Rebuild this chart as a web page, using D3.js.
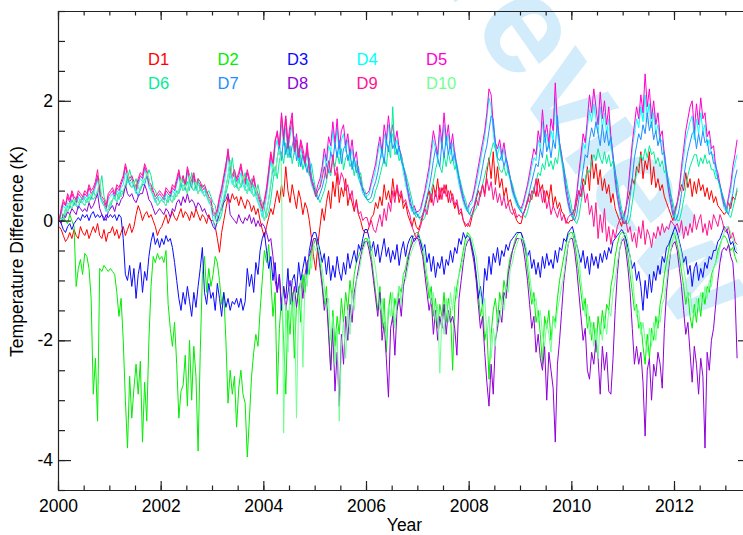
<!DOCTYPE html>
<html>
<head>
<meta charset="utf-8">
<script src="https://d3js.org/d3.v7.min.js"></script>
<style>
  body { margin: 0; background: #fff; }
  text { font-family: "Liberation Sans", Arial, sans-serif; }
</style>
</head>
<body>
<div id="chart"></div>
<script>
// half-monthly values from Jan 2000 (about 24 per row, one row per year)
const startYear = 2000;
const perYear = 24;

const d1 = [
  -.1,-.15,-.25,-.35,-.3,-.2,-.3,-.15,-.25,-.3,-.1,-.2,-.25,-.15,-.3,-.2,-.1,-.2,-.05,-.25,-.3,-.15,-.35,-.2,
  -.2,-.1,-.25,-.15,-.3,-.2,-.1,-.25,-.15,-.05,-.2,-.1,.1,.25,.15,0,.1,.15,.05,.1,0,-.1,-.25,-.15,
  -.1,0,.1,-.05,.05,.15,.05,0,.1,.2,.05,.15,.1,0,.15,.05,.2,.1,0,.1,.05,-.05,.1,0,
  0,-.1,-.3,-.53,-.2,0,.2,.4,.3,.45,.35,.4,.25,.4,.3,.2,.35,.3,.15,.25,.1,.2,0,-.15,
  -.28,-.1,.05,.2,.1,.3,.5,.3,.6,.4,.9,.5,.3,.6,.4,.2,.5,.35,.1,.3,.2,0,-.3,-.6,
  -.83,-.4,-.1,.2,0,.3,.5,.2,.65,.4,.8,.3,.55,.4,.7,.25,.45,.3,.15,.35,.1,0,-.15,-.2,
  -.2,-.1,.05,.1,.3,.2,.4,.25,.6,.35,.5,.3,.7,.4,.55,.3,.45,.2,.3,.1,0,-.1,.05,-.1,
  -.15,-.05,.1,.2,.35,.5,.3,.6,.4,.7,.35,.55,.45,.6,.3,.5,.35,.2,.3,.1,.15,0,-.1,-.05,
  -.1,.05,.2,.35,.5,.4,.6,.45,.8,1.05,.7,1.15,.6,.9,.55,.7,.4,.55,.3,.35,.2,.1,0,-.05,
  -.05,.1,.2,.3,.45,.35,.55,.4,.7,.5,.6,.3,.5,.35,.6,.25,.4,.2,.3,.15,.1,0,-.05,0,
  0,.1,.3,.5,.4,.7,.6,.9,.5,1.1,.7,.95,.6,.85,.5,.7,.45,.6,.3,.45,.2,.1,0,-.1,
  .1,.2,.35,.5,.7,.6,.9,.8,1.15,.7,1,.85,1.15,.6,.9,.55,.7,.5,.6,.4,.3,.2,.1,0,
  .2,.3,.45,.6,.5,.8,.55,.7,.4,.65,.45,.7,.5,.6,.4,.55,.35,.5,.3,.4,.25,.2,.15,.1,
  .15,.3,.2,.4,.35,.5
];
const d2 = [
  0,.15,.05,0,-.05,.1,0,-.1,-1.1,-.8,-.65,-.9,-.55,-.6,-.8,-1.3,-2.9,-2.3,-3.35,-.8,-.85,-.75,-.8,-.85,
  -.8,-.85,-.9,-1.2,-1.6,-1.3,-2,-3,-3.8,-2.6,-3.3,-2.8,-2.4,-2.9,-2.35,-3.7,-2.7,-3.35,-2,-1.1,-.6,-.7,-.55,-.65,
  -.6,-.7,-.5,-1.4,-1.8,-2.1,-1.7,-2.4,-3.3,-2.85,-2.75,-2.25,-3.1,-2,-3,-2.1,-2.6,-3.85,-2.2,-.9,-.6,-1.2,-.8,-1.1,
  -.9,-.6,-.7,-1,-1.4,-1.2,-2,-3.05,-2.5,-2.9,-2.6,-3.45,-2.8,-2.5,-2.9,-3.05,-3.95,-3.3,-2.6,-2.2,-1.9,-2.1,-1.5,-1,
  -.5,-.7,-.4,-1,-1.6,-1.2,-2.9,-1.8,-1.3,-2,-2.9,-1.5,-1.9,-1.2,-2.3,-1.4,-1.1,-1.7,-.9,-1.2,-.7,-.9,-.5,-.4,
  -.3,-.5,-.7,-1,-1.4,-1.1,-1.8,-2.5,-1.5,-2.1,-1.6,-1.9,-1.3,-1.7,-1.2,-1.5,-1,-1.3,-.9,-.7,-.6,-.5,-.4,-.3,
  -.3,-.4,-.6,-.9,-1.2,-1.5,-1.1,-1.8,-1.3,-2.2,-1.5,-1.2,-1.7,-1.3,-1.5,-1.1,-1.2,-.9,-.8,-.6,-.5,-.3,-.25,-.2,
  -.2,-.35,-.5,-.8,-1,-1.3,-1.1,-1.6,-1.3,-1.8,-1.4,-1.6,-1.2,-1.7,-1.3,-1.5,-2.5,-1.4,-1.1,-.9,-.7,-.5,-.3,-.2,
  -.25,-.4,-.6,-.9,-1.2,-1.6,-1.4,-2,-1.8,-2.65,-1.9,-1.5,-1.3,-1.7,-1.2,-1.4,-1,-1.2,-.8,-.6,-.5,-.35,-.25,-.2,
  -.2,-.35,-.5,-.8,-1.1,-1.4,-1.2,-1.7,-1.5,-1.9,-2.4,-1.6,-1.8,-1.5,-2,-1.6,-1.7,-1.3,-1,-.8,-.6,-.4,-.25,-.2,
  -.2,-.35,-.6,-.9,-1.2,-1.5,-1.3,-1.8,-1.6,-2,-1.7,-2.2,-1.6,-1.9,-1.5,-1.8,-1.4,-1.5,-1.1,-.9,-.6,-.4,-.25,-.2,
  -.2,-.35,-.6,-.9,-1.2,-1.5,-1.4,-1.8,-1.7,-2.1,-2.4,-1.9,-2.3,-1.8,-2,-1.6,-1.8,-1.4,-1.2,-.9,-.7,-.5,-.3,-.2,
  -.25,-.4,-.6,-.85,-1.1,-1.4,-1.2,-1.6,-1.8,-1.4,-1.7,-1.3,-1.6,-1.2,-1.4,-1.1,-1.2,-.9,-.8,-.7,-.5,-.4,-.3,-.25,
  -.3,-.4,-.5,-.45,-.6,-.7
];
const d3v = [
  0,-.05,-.15,-.2,-.1,-.05,-.15,-.05,0,.05,0,.1,.05,.1,0,.1,.15,.05,.1,.05,.1,0,.1,.05,
  .1,.05,.1,0,.1,.05,-.3,-.9,-1,-.75,-1.1,-.8,-1.3,-.9,-.7,-1.2,-.85,-1,-.6,-.35,-.2,-.4,-.3,-.45,
  -.3,-.4,-.25,-.35,-.3,-.45,-.7,-1,-1.3,-1.5,-1.2,-1.4,-1.1,-1.35,-1.6,-1.2,-1.45,-1.1,-.8,-.45,-1.2,-1.4,-1.05,-1.3,
  -1.2,-1.5,-1.05,-1.3,-1.6,-1.2,-1.45,-1.3,-1.5,-1.35,-1.4,-1.3,-1.45,-1.3,-1.5,-1.35,-.8,-1.1,-.9,-1.2,-.7,-.9,-.5,-.3,
  -.2,-.5,-.8,-.6,-1,-.7,-1.2,-.9,-1.5,-1.1,-1.3,-.8,-1.4,-1,-.9,-1.2,-.7,-1,-.8,-.6,-.9,-.5,-.3,-.2,
  -.2,-.35,-.5,-.7,-.55,-.9,-.6,-1,-.75,-.95,-.6,-.85,-1,-.7,-.9,-.55,-.8,-.65,-.5,-.7,-.4,-.5,-.3,-.15,
  -.15,-.3,-.5,-.35,-.6,-.4,-.7,-.5,-.3,-.6,-.45,-.7,-.5,-.65,-.4,-.75,-.5,-.35,-.6,-.4,-.3,-.25,-.35,-.3,
  -.25,-.35,-.5,-.4,-.7,-.55,-.85,-.6,-.95,-.7,-.8,-.6,-.9,-.65,-.75,-.5,-.7,-.45,-.55,-.3,-.4,-.2,-.3,-.25,
  -.3,-.45,-.6,-.9,-1.3,-1.1,-1.4,-.8,-1,-.6,-.9,-.55,-.7,-.45,-.75,-.5,-.6,-.4,-.5,-.35,-.3,-.25,-.2,-.2,
  -.2,-.3,-.45,-.6,-.5,-.8,-.65,-.9,-.7,-.95,-.6,-.8,-.55,-.75,-.65,-.8,-.5,-.7,-.45,-.5,-.3,-.35,-.2,-.15,
  -.1,-.25,-.4,-.55,-.7,-.5,-.8,-.6,-.9,-.55,-.75,-.6,-.8,-.55,-.7,-.5,-.65,-.45,-.55,-.35,-.3,-.25,-.2,-.15,
  -.2,-.3,-.45,-.6,-.8,-.7,-1,-.85,-1.1,-1.5,-1,-1.3,-.9,-1.2,-.85,-1,-.75,-.9,-.6,-.7,-.45,-.4,-.3,-.2,
  -.1,-.2,-.35,-.5,-.7,-.6,-.9,-.75,-1.1,-.8,-.7,-1,-.8,-.95,-.7,-.8,-.6,-.65,-.5,-.5,-.35,-.3,-.2,-.1,
  -.15,-.25,-.4,-.35,-.5,-.55
];
const d4 = [
  0,.1,.25,.2,.3,.25,.35,.3,.25,.4,.3,.3,.4,.35,.45,.4,.45,.55,.7,.4,.3,.25,.15,.35,
  .4,.45,.35,.5,.45,.55,.6,.8,.7,.6,.65,.55,.45,.6,.7,.65,.85,.75,.55,.5,.4,.3,.35,.4,
  .35,.3,.45,.4,.35,.5,.45,.6,.75,.55,.6,.5,.8,.65,.55,.7,.5,.6,.55,.45,.5,.4,.3,.25,
  0,-.15,.05,.25,.4,.6,.8,1.1,.75,.6,.7,.55,.65,.8,.6,.5,.7,.55,.45,.6,.4,.3,.2,.05,
  .2,.4,.7,1,.8,1.2,1.35,1.1,1.6,1.25,1.55,1.15,1.4,1.6,1.1,1.3,1,1.2,1.05,.9,1.15,.8,.6,.5,
  .4,.5,.6,.8,1.1,.9,1.25,1.15,1.5,1.2,1.55,1.1,1.35,1.45,1.15,1.35,1,1.2,.9,1,.7,.6,.45,.4,
  .4,.45,.6,.7,.85,1.1,1.3,1.05,1.45,1.25,1.6,1.3,1.45,1.2,1.35,1.1,1,.8,.6,.45,.25,.15,.2,.1,
  .1,.15,.3,.45,.6,.8,1.1,1.35,1.2,1,1.45,1.2,1.6,1.25,1.45,1.1,1.3,1,.8,.6,.45,.3,.2,.15,
  .25,.3,.45,.6,.8,1,1.2,1.4,1.7,2.05,1.9,1.45,1.2,1.1,1.25,1,1.2,.95,.8,.65,.45,.35,.25,.2,
  .15,.25,.4,.55,.7,.9,1.05,1,1.35,1.2,1.65,1.3,1.45,1.2,1.5,1.35,2.05,1.45,1.2,1,.7,.45,.25,.1,
  .05,.15,.4,.7,1,1.3,1.2,1.55,1.85,1.65,1.95,1.7,1.45,1.9,1.55,1.8,1.45,1.7,1.25,1,.6,.35,.15,0,
  0,.15,.45,.8,1.2,1.45,1.7,1.55,1.9,1.65,2.1,1.75,1.95,1.55,1.8,1.45,1.6,1.3,1.35,1,.7,.45,.25,.05,
  .1,.25,.5,.8,1.05,1.35,1.5,1.65,1.75,1.35,1.7,1.45,1.8,1.5,1.6,1.25,1.35,1.1,1.1,.8,.7,.55,.35,.2,
  .15,.35,.5,.8,.95,1.1
];
const d5 = [
  0,.15,.3,.25,.4,.3,.45,.35,.3,.45,.4,.35,.45,.4,.55,.45,.5,.6,.75,.45,.35,.3,.2,.4,
  .45,.5,.4,.55,.5,.6,.7,.9,.75,.65,.7,.6,.5,.65,.75,.7,.9,.8,.6,.55,.45,.35,.4,.45,
  .4,.35,.5,.45,.4,.55,.5,.65,.8,.6,.7,.55,.85,.7,.6,.75,.55,.65,.6,.5,.55,.45,.35,.3,
  .1,.05,.15,.35,.5,.7,.9,1.2,.85,.7,.8,.65,.75,.9,.7,.6,.8,.65,.55,.7,.5,.4,.3,.15,
  .3,.5,.8,1.1,.9,1.3,1.5,1.2,1.8,1.4,1.75,1.3,1.6,1.8,1.2,1.45,1.1,1.35,1.2,1,1.3,.9,.7,.6,
  .45,.6,.7,.9,1.2,1,1.4,1.25,1.65,1.3,1.7,1.2,1.5,1.6,1.25,1.45,1.1,1.35,1,1.15,.8,.7,.5,.45,
  .45,.5,.65,.8,.95,1.2,1.4,1.15,1.6,1.35,1.75,1.4,1.6,1.3,1.5,1.2,1.1,.9,.7,.5,.3,.2,.25,.15,
  .15,.2,.35,.5,.7,.9,1.2,1.5,1.3,1.1,1.6,1.3,1.8,1.35,1.6,1.2,1.45,1.1,.9,.7,.5,.35,.25,.2,
  .3,.35,.5,.7,.9,1.1,1.3,1.5,1.8,2.2,2.1,1.6,1.3,1.2,1.35,1.1,1.3,1.05,.9,.7,.5,.4,.3,.25,
  .2,.3,.45,.6,.8,1,1.2,1.1,1.5,1.3,1.85,1.4,1.6,1.3,1.7,1.5,2.3,1.6,1.3,1.1,.8,.5,.3,.15,
  .1,.2,.45,.8,1.1,1.45,1.3,1.7,2.1,1.8,2.2,1.9,1.6,2.15,1.7,2,1.6,1.9,1.4,1.1,.7,.4,.2,.05,
  .05,.2,.5,.9,1.3,1.6,1.9,1.7,2.1,1.8,2.45,1.9,2.2,1.7,2,1.6,1.8,1.4,1.5,1.1,.8,.5,.3,.1,
  .15,.3,.55,.9,1.2,1.5,1.7,1.9,2,1.5,1.95,1.6,2.05,1.7,1.8,1.4,1.5,1.2,1.25,.9,.8,.6,.4,.25,
  .2,.4,.6,.9,1.1,1.35
];
const d6 = [
  0,.05,0,.1,.25,.2,.35,.25,.4,.3,.3,.4,.35,.3,.4,.35,.5,.4,.45,.55,.75,.4,.3,.25,.2,.35,
  .4,.45,.35,.5,.45,.55,.65,.85,.7,.6,.7,.55,.5,.6,.7,.7,.85,.75,.55,.5,.4,.3,.35,.4,
  .35,.3,.45,.4,.35,.5,.45,.55,.75,.55,.65,.5,.8,.65,.55,.7,.5,.6,.55,.45,.5,.4,.3,.25,
  .05,0,.1,.3,.45,.6,.8,1.05,.75,.6,.7,.55,.65,.8,.6,.5,.7,.55,.45,.6,.4,.3,.2,.05,
  .15,.35,.65,.9,.7,1,1.15,.95,1.3,1.05,1.25,.95,1.15,1.3,.9,1.1,.85,1,.9,.75,.95,.7,.5,.4,
  .3,.4,.5,.65,.85,.75,1,.9,1.15,.95,1.2,.85,1.05,1.1,.9,1,.75,.95,.7,.8,.55,.5,.35,.3,
  .3,.35,.5,.6,.75,.9,1.05,.9,1.25,1.05,1.9,1.1,1.2,1,1.1,.9,.8,.65,.5,.35,.15,.05,.1,0,
  0,.05,.2,.35,.5,.65,.85,1,.9,.8,1.1,.9,1.15,.95,1.05,.85,.95,.75,.6,.45,.35,.2,.1,.05,
  .15,.2,.35,.45,.6,.75,.9,1,1.15,1.3,1.2,1,.85,.8,.9,.75,.85,.7,.6,.45,.35,.25,.15,.1,
  .05,.15,.3,.4,.55,.65,.8,.75,.95,.85,1.1,.9,1,.85,1.05,.95,1.25,1,.85,.7,.5,.35,.15,0,
  -.05,.05,.3,.5,.7,.85,.8,1,1.1,1,1.2,1.05,.95,1.15,.95,1.1,.9,1,.8,.65,.4,.2,.05,-.05,
  -.05,.05,.3,.55,.8,.95,1.1,1,1.2,1.05,1.25,1.1,1.15,.95,1.05,.9,1,.8,.85,.65,.45,.3,.15,0,
  0,.15,.35,.55,.75,.9,1,1.1,1.1,.9,1.05,.95,1.1,.95,1,.85,.85,.7,.7,.55,.45,.35,.2,.1,
  .05,.2,.35,.55
];
const d7 = [
  0,0,.05,.2,.15,.25,.2,.3,.25,.2,.35,.3,.25,.35,.3,.4,.35,.4,.5,.6,.35,.25,.2,.15,.3,
  .35,.4,.3,.45,.4,.5,.55,.75,.6,.55,.6,.5,.4,.55,.6,.6,.75,.7,.5,.45,.35,.25,.3,.35,
  .3,.25,.4,.35,.3,.45,.4,.5,.65,.5,.55,.45,.7,.55,.5,.6,.45,.55,.5,.4,.45,.35,.25,.2,
  .05,-.05,.1,.25,.35,.55,.75,1,.7,.55,.6,.5,.6,.7,.55,.45,.65,.5,.4,.5,.35,.25,.15,0,
  .15,.35,.6,.9,.75,1.05,1.25,1,1.4,1.1,1.35,1.05,1.25,1.4,1,1.2,.9,1.1,.95,.8,1.05,.75,.55,.45,
  .35,.45,.55,.7,.95,.8,1.15,1,1.3,1.05,1.35,.95,1.2,1.25,1,1.15,.85,1.05,.8,.9,.6,.55,.4,.35,
  .35,.4,.55,.65,.8,1,1.2,.95,1.35,1.15,1.45,1.2,1.3,1.1,1.25,1,.9,.75,.55,.4,.2,.1,.15,.05,
  .05,.1,.25,.4,.55,.75,1,1.2,1.05,.9,1.3,1.05,1.4,1.1,1.3,1,1.15,.9,.7,.55,.4,.25,.15,.1,
  .2,.25,.4,.55,.7,.9,1.1,1.25,1.5,1.75,1.7,1.3,1.05,1,1.1,.9,1.05,.85,.7,.55,.4,.3,.2,.15,
  .1,.2,.35,.5,.65,.8,.95,.9,1.2,1.05,1.5,1.15,1.3,1.05,1.35,1.2,1.75,1.3,1.05,.9,.6,.4,.2,.05,
  0,.1,.35,.6,.85,1.1,1.05,1.35,1.55,1.4,1.65,1.45,1.25,1.6,1.3,1.5,1.25,1.4,1.05,.85,.5,.3,.1,-.05,
  -.05,.1,.4,.7,1.05,1.25,1.45,1.35,1.6,1.45,1.8,1.5,1.65,1.35,1.5,1.25,1.4,1.1,1.15,.85,.6,.4,.2,0,
  .05,.2,.45,.7,.95,1.15,1.3,1.45,1.5,1.2,1.45,1.25,1.5,1.3,1.35,1.1,1.15,.95,.95,.7,.6,.45,.3,.15,
  .1,.3,.45,.7,.85
];
const d8 = [
  0,-.05,.1,.05,.15,.1,.2,.15,.1,.25,.2,.15,.2,.15,.3,.2,.25,.35,.45,.2,.1,.05,0,.15,
  .2,.25,.15,.3,.25,.35,.4,.6,.45,.4,.45,.35,.3,.4,.45,.45,.6,.5,.35,.3,.2,.1,.15,.2,
  .15,.1,.2,.15,.05,.2,.15,.3,.35,.25,.4,.3,.45,.3,.35,.3,.2,.3,.25,.15,.2,.1,.05,0,
  -.1,-.15,0,.1,.2,.3,.35,.45,.1,.05,0,-.05,.1,0,-.05,.05,0,.1,-.05,.05,-.1,0,-.1,-.05,
  -.1,-.2,-.35,-.3,-.6,-1,-1.2,-.9,-1.4,-1.1,-1.5,-1.2,-1,-1.35,-1.1,-1.45,-1.2,-1,-1.3,-.9,-.7,-.6,-.45,-.3,
  -.3,-.5,-.8,-1.1,-1.5,-1.3,-1.9,-2.5,-1.8,-2.85,-2.2,-3.1,-1.9,-2.4,-1.6,-2,-1.4,-1.7,-1.2,-1,-.8,-.6,-.45,-.35,
  -.35,-.5,-.7,-1,-1.3,-1.6,-1.2,-2,-1.7,-2.3,-2.95,-1.8,-1.6,-2.25,-1.5,-1.3,-1.6,-1.1,-.9,-.7,-.5,-.4,-.3,-.3,
  -.3,-.45,-.6,-.9,-1.2,-1.5,-1.3,-1.9,-1.5,-2,-1.6,-1.8,-1.4,-1.9,-1.5,-1.7,-1.6,-1.8,-2.25,-1.3,-1,-.7,-.45,-.35,
  -.3,-.5,-.7,-1,-1.4,-1.8,-1.6,-2.2,-2.7,-3.1,-2.4,-2.9,-2,-1.8,-1.5,-1.7,-1.2,-1.3,-.9,-.7,-.5,-.4,-.3,-.3,
  -.3,-.45,-.7,-1,-1.4,-1.8,-1.6,-2.2,-1.9,-2.3,-2.5,-2.1,-3,-2.2,-2.5,-2.8,-3.7,-2.4,-2,-1.5,-1,-.7,-.4,-.3,
  -.3,-.5,-.8,-1.2,-1.6,-2,-1.8,-2.5,-2.65,-2.2,-2.4,-2,-2.3,-2.9,-2.1,-2.5,-2.2,-2.85,-2.9,-2.3,-1.5,-.9,-.5,-.35,
  -.3,-.5,-.8,-1.2,-1.8,-2.4,-2.1,-2.4,-2.2,-2.7,-3.6,-2.5,-2.3,-3,-2.4,-2.6,-2.2,-2.4,-2.8,-1.8,-1.2,-.8,-.5,-.4,
  -.35,-.5,-.8,-1.1,-1.5,-1.9,-1.7,-2.2,-2.7,-2.1,-2.4,-2.9,-2.3,-2.6,-3.8,-2.2,-2.5,-2,-1.8,-1.4,-1,-.7,-.5,-.45,
  -.5,-.4,-.6,-.7,-1.2,-2.3
];
const d9 = [
  0,.2,.35,.25,.45,.35,.5,.4,.35,.5,.45,.4,.5,.45,.6,.5,.55,.65,.85,.5,.4,.35,.25,.45,
  .5,.55,.45,.6,.55,.65,.75,.95,.8,.7,.75,.65,.55,.7,.8,.75,.95,.85,.65,.6,.5,.4,.45,.5,
  .45,.4,.55,.5,.45,.6,.55,.7,.85,.65,.75,.6,.9,.75,.65,.8,.6,.7,.65,.55,.6,.5,.4,.35,
  .15,.1,.2,.4,.55,.75,.95,1.15,.9,.75,.85,.7,.8,.95,.75,.65,.85,.7,.6,.75,.55,.45,.35,.2,
  .35,.55,.85,1.15,.95,1.35,1.45,1.25,1.75,1.35,1.7,1.2,1.5,1.7,1.15,1.35,1.05,1.3,1.1,.95,1.2,.85,.65,.55,
  .4,.5,.55,.7,.9,.7,1,.8,1.1,.75,.9,.6,.8,.7,.5,.6,.35,.5,.2,.3,.1,.15,0,.05,
  .05,-.1,0,-.15,-.2,-.05,.1,-.1,.2,0,.3,.15,.5,.3,.6,.4,.5,.3,.35,.2,.1,-.1,-.2,-.3,
  -.2,-.1,.05,.2,.1,.3,.45,.25,.5,.3,.55,.35,.6,.4,.5,.3,.45,.25,.35,.15,.2,0,-.05,-.1,
  0,.1,.2,.35,.25,.45,.6,.4,.7,.5,.65,.35,.55,.3,.45,.25,.4,.2,.3,.15,.1,.2,.05,.1,
  .05,.1,.2,.35,.3,.5,.45,.7,.4,.55,.3,.5,.2,.35,.1,.25,.15,.05,.2,0,.1,-.05,.05,.1,
  .1,.2,.35,.5,.4,.6,.3,.45,.1,.25,-.1,.3,-.3,.1,-.2,.2,-.35,-.1,-.4,-.15,-.3,-.1,0,.05,
  -.05,0,-.2,-.1,-.35,-.2,-.45,-.1,-.3,0,-.4,-.15,-.25,-.45,-.2,-.3,-.1,-.25,-.05,-.2,-.1,-.15,0,-.05,
  -.1,-.05,-.2,0,-.3,-.1,-.25,-.05,-.2,.1,-.15,0,.1,-.2,-.05,-.25,0,-.15,.1,0,-.1,.1,0,-.15,
  -.2,-.1,-.3,-.2,-.35,-.4
];
const d10 = [
  0,0,.05,.2,.15,.3,.2,.35,.25,.25,.35,.3,.25,.35,.3,.45,.35,.4,.5,.7,.35,.25,.2,.15,.3,
  .35,.4,.3,.45,.4,.5,.6,.8,.65,.55,.65,.5,.45,.55,.65,.65,.8,.7,.5,.45,.35,.25,.3,.35,
  .3,.25,.4,.35,.3,.45,.4,.5,.7,.5,.6,.45,.75,.6,.5,.65,.45,.55,.5,.4,.45,.35,.25,.2,
  0,-.05,.05,.25,.4,.55,.75,1,.7,.55,.65,.5,.6,.75,.55,.45,.65,.5,.4,.55,.35,.25,.15,0,
  .15,.35,.65,.95,.75,1.05,1.2,.9,-3.55,-1.4,-2.2,-1.1,-1.6,-1.2,-3.3,-1.3,-1,-2.45,-.9,-1.1,-.6,-.8,-.4,-.5,
  -.4,-.6,-.8,-1.1,-1.5,-1.3,-2,-1.6,-2.4,-1.8,-3.35,-2.1,-1.7,-2.3,-1.5,-1.9,-1.2,-1.5,-1,-.9,-.7,-.5,-.4,-.3,
  -.3,-.45,-.6,-.8,-1.1,-1.5,-1.3,-1.7,-2,-1.4,-1.6,-1.2,-1.8,-1.3,-1.1,-1.4,-.9,-1,-.8,-.6,-.5,-.4,-.35,-.3,
  -.3,-.4,-.6,-.9,-1.1,-1.4,-1.2,-1.7,-1.4,-2.55,-1.6,-1.9,-1.3,-1.7,-1.2,-1.5,-1.1,-1.3,-.9,-.8,-.6,-.4,-.3,-.25,
  -.3,-.45,-.6,-.9,-1.2,-1.5,-1.3,-1.9,-1.6,-2.3,-1.8,-2.1,-1.5,-1.7,-1.3,-1.5,-1.1,-1.2,-.8,-.7,-.5,-.4,-.3,-.3,
  -.3,-.4,-.6,-.9,-1.2,-1.4,-1.3,-1.7,-1.5,-1.9,-2.1,-1.7,-1.9,-2.2,-1.6,-1.8,-1.5,-1.3,-1.1,-.9,-.6,-.4,-.3,-.25,
  -.2,-.4,-.6,-1,-1.3,-1.6,-1.4,-1.9,-1.7,-2.1,-1.8,-2.3,-1.7,-2,-1.6,-1.9,-1.5,-1.6,-1.2,-1,-.7,-.5,-.3,-.25,
  -.2,-.35,-.6,-.9,-1.3,-1.6,-1.5,-1.9,-1.7,-2,-2.2,-1.8,-2.1,-1.7,-2,-1.6,-1.7,-1.4,-1.3,-1,-.7,-.5,-.3,-.2,
  -.25,-.4,-.55,-.8,-1,-1.3,-1.2,-1.5,-1.6,-1.3,-1.5,-1.2,-1.4,-1.1,-1.3,-1,-1.1,-.8,-.7,-.6,-.45,-.3,-.2,-.1,
  -.1,-.2,-.3,-.4,-.5
];

const seriesNames = ["D1","D2","D3","D4","D5","D6","D7","D8","D9","D10"];
const seriesValues = [d1, d2, d3v, d4, d5, d6, d7, d8, d9, d10];
const seriesColors = ["#ff0000","#00ee00","#0a0aff","#00ffff","#ff00d0",
                      "#00ee99","#1e90ff","#9000d8","#ff1493","#70ff90"];
const xMajor = [2000, 2002, 2004, 2006, 2008, 2010, 2012];
const yMajor = [-4, -2, 0, 2];

const W = 743, H = 535;
const margin = {top: 11, right: -8, bottom: 45, left: 58};
const width = W - margin.left - margin.right,
      height = H - margin.top - margin.bottom;

const svg = d3.select("#chart").append("svg")
    .attr("width", W).attr("height", H);

// watermark
svg.append("text")
    .attr("transform", "translate(385,-98) rotate(55)")
    .attr("font-size", 140).attr("font-weight", "bold")
    .attr("fill", "#d2ecfb")
    .text("Preview");

const g = svg.append("g").attr("transform", `translate(${margin.left},${margin.top})`);

const x = d3.scaleLinear().domain([2000, 2013.5]).range([0, width]);
const y = d3.scaleLinear().domain([-4.5, 3.5]).range([height, 0]);

const line = d3.line()
    .x((d, i) => x(startYear + (i + 0.5) / perYear))
    .y(d => y(d));

g.selectAll(".series")
  .data(seriesValues)
  .join("path")
    .attr("class", "series")
    .attr("fill", "none")
    .attr("stroke", (d, i) => seriesColors[i])
    .attr("stroke-width", 1)
    .attr("d", line);

// axes: minor ticks
const xMinor = d3.range(2000, 2013.51, 0.5);
const yMinor = d3.range(-4.5, 3.51, 0.5);
function styleAxis(sel) {
  sel.selectAll("path, line").attr("stroke", "#222").attr("stroke-width", 1.2);
  sel.selectAll("text").attr("font-size", 17.5).attr("fill", "#000")
     .attr("font-family", "Liberation Sans, Arial, sans-serif");
}
g.append("g").attr("transform", `translate(0,${height})`)
  .call(d3.axisBottom(x).tickValues(xMinor).tickSize(-4.5).tickFormat(""))
  .call(s => s.select(".domain").remove()).call(styleAxis);
g.append("g")
  .call(d3.axisTop(x).tickValues(xMinor).tickSize(-4.5).tickFormat(""))
  .call(s => s.select(".domain").remove()).call(styleAxis);
g.append("g")
  .call(d3.axisLeft(y).tickValues(yMinor).tickSize(-7).tickFormat(""))
  .call(s => s.select(".domain").remove()).call(styleAxis);
g.append("g").attr("transform", `translate(${width},0)`)
  .call(d3.axisRight(y).tickValues(yMinor).tickSize(-7).tickFormat(""))
  .call(s => s.select(".domain").remove()).call(styleAxis);

// axes: major ticks and labels (plain hyphen for negatives)
g.append("g").attr("transform", `translate(0,${height})`)
  .call(d3.axisBottom(x).tickValues(xMajor).tickSize(-9).tickSizeOuter(0)
        .tickPadding(10).tickFormat(d => String(d)))
  .call(styleAxis);
g.append("g")
  .call(d3.axisTop(x).tickValues(xMajor).tickSize(-9).tickSizeOuter(0).tickFormat(""))
  .call(styleAxis);
g.append("g")
  .call(d3.axisLeft(y).tickValues(yMajor).tickSize(-13).tickSizeOuter(0)
        .tickPadding(5).tickFormat(d => String(d)))
  .call(styleAxis);
g.append("g").attr("transform", `translate(${width},0)`)
  .call(d3.axisRight(y).tickValues(yMajor).tickSize(-13).tickSizeOuter(0).tickFormat(""))
  .call(styleAxis);

// axis titles
svg.append("text")
    .attr("x", margin.left + width / 2).attr("y", 531)
    .attr("text-anchor", "middle").attr("font-size", 17.5)
    .text("Year");
svg.append("text")
    .attr("transform", `translate(23,${margin.top + height / 2 + 1}) rotate(-90)`)
    .attr("text-anchor", "middle").attr("font-size", 17.5)
    .text("Temperature Difference (K)");

// legend: two rows of five
svg.append("g").selectAll("text")
  .data(seriesNames)
  .join("text")
    .attr("x", (d, i) => 148 + (i % 5) * 69.5)
    .attr("y", (d, i) => 65 + Math.floor(i / 5) * 24)
    .attr("font-size", 16.5)
    .attr("fill", (d, i) => seriesColors[i])
    .text(d => d);
</script>
</body>
</html>
